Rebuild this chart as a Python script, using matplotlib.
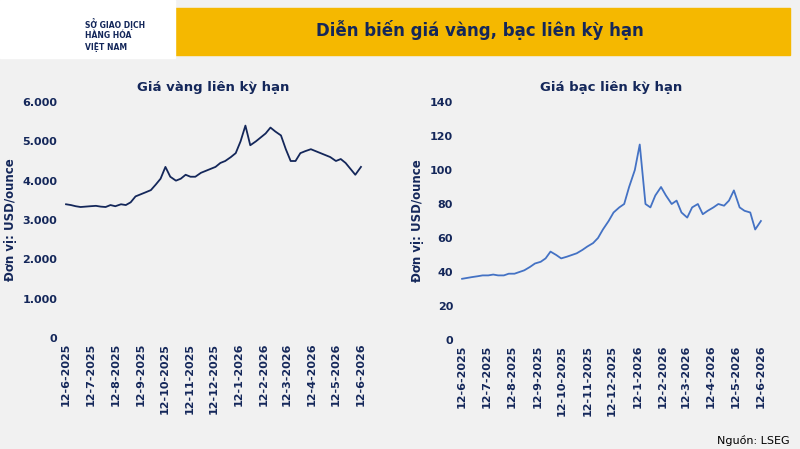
import matplotlib
matplotlib.use("Agg")
import matplotlib.pyplot as plt
import matplotlib.ticker as mticker
import datetime as dt

gold = [3400,3380,3350,3330,3340,3350,3360,3340,3330,3380,3350,3400,3380,3450,3600,3650,3700,3760,
        3900,4050,4350,4100,4000,4050,4150,4100,4100,4200,4250,4300,4350,4450,4500,4600,4700,5000,5400,4900,
        5000,5100,5200,5350,5250,5150,4800,4500,4500,4700,4750,4800,4750,4700,4650,4600,4500,4550,4450,4300,4150,4350]
silver = [36,36.5,37,37.5,38,38,38.5,38,38,39,39,40,41,43,45,46,48,52,50,48,49,50,51,53,55,57,
          60,65,70,75,78,80,90,100,115,80,78,85,90,85,80,82,75,72,78,80,74,76,78,80,79,82,88,78,76,75,65,70]
tick_labels = ["12-6-2025","12-7-2025","12-8-2025","12-9-2025","12-10-2025","12-11-2025","12-12-2025",
               "12-1-2026","12-2-2026","12-3-2026","12-4-2026","12-5-2026","12-6-2026"]
start, end = dt.date(2025,6,12), dt.date(2026,6,12)
tick_dates = [dt.date(2025+(5+i)//12, (5+i)%12+1, 12) for i in range(13)]

def dates_for(n):
    span = (end-start).days
    return [start+dt.timedelta(days=span*i/(n-1)) for i in range(n)]

navy = "#14275a"
fig = plt.figure(figsize=(8,4.49), dpi=100)
fig.patch.set_facecolor("#f1f1f1")
fig.patches.append(plt.Rectangle((175/800,1-55/449),615/800,47/449,transform=fig.transFigure,color="#f5b800",zorder=0))
fig.patches.append(plt.Rectangle((0,1-58/449),175/800,58/449,transform=fig.transFigure,color="white",zorder=0))
fig.text(480/800,1-30/449,"Diễn biến giá vàng, bạc liên kỳ hạn",ha="center",va="center",fontsize=12,fontweight="bold",color=navy)
fig.text(85/800,1-18/449,"SỞ GIAO DỊCH\nHÀNG HÓA\nVIỆT NAM",ha="left",va="top",fontsize=5.5,fontweight="bold",color=navy)
fig.text(790/800,1-440/449,"Nguồn: LSEG",ha="right",va="center",fontsize=8,color="black")

def setup(ax, title, ylim, step, fmt):
    ax.set_facecolor("none")
    for s in ax.spines.values(): s.set_visible(False)
    ax.set_ylim(*ylim)
    ax.yaxis.set_major_locator(mticker.MultipleLocator(step))
    ax.yaxis.set_major_formatter(mticker.FuncFormatter(fmt))
    ax.set_xlim(start-dt.timedelta(days=5), end+dt.timedelta(days=5))
    ax.set_xticks(tick_dates)
    ax.set_xticklabels(tick_labels, rotation=90, fontsize=8, fontweight="bold", color=navy)
    ax.tick_params(length=0, labelsize=8, colors=navy)
    for l in ax.get_yticklabels(): l.set_fontweight("bold")
    ax.set_ylabel("Đơn vị: USD/ounce", fontsize=8.5, fontweight="bold", color=navy)
    ax.set_title(title, fontsize=9.5, fontweight="bold", color=navy, pad=8)

ax1 = fig.add_axes([62/800, 1-338/449, 303/800, 236/449])
ax1.plot(dates_for(len(gold)), gold, color=navy, lw=1.3)
setup(ax1, "Giá vàng liên kỳ hạn", (0,6000), 1000, lambda v,p: f"{int(v):,}".replace(",", "."))
ax2 = fig.add_axes([458/800, 1-340/449, 307/800, 238/449])
ax2.plot(dates_for(len(silver)), silver, color="#4472c4", lw=1.3)
setup(ax2, "Giá bạc liên kỳ hạn", (0,140), 20, lambda v,p: f"{int(v)}")
fig.savefig("out.png", dpi=100, facecolor=fig.get_facecolor())
